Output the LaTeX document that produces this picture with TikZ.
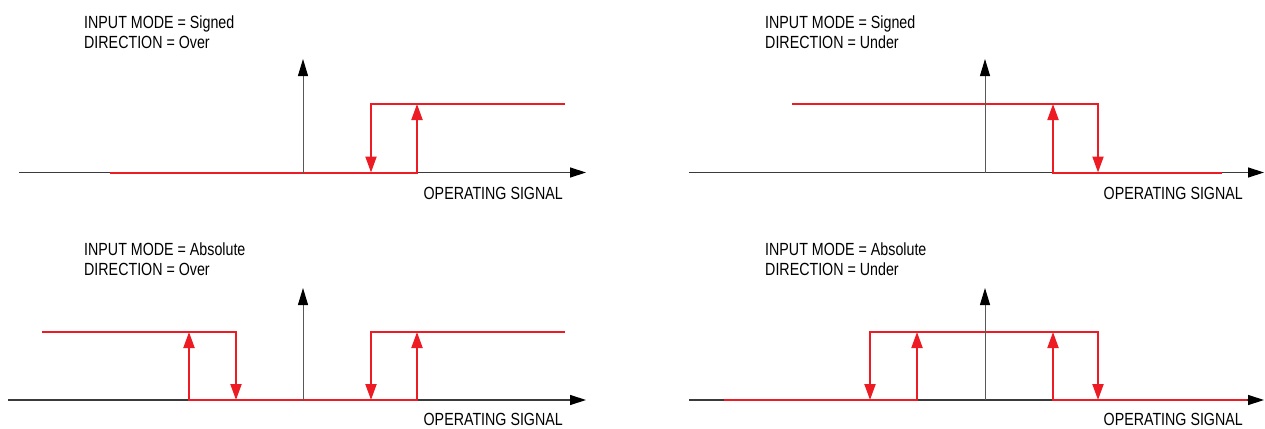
\documentclass[tikz,border=0pt]{standalone}
\usepackage{fontspec}
\setmainfont{Liberation Sans}[FakeStretch=0.81]
\usetikzlibrary{arrows.meta, positioning}
\definecolor{relayred}{HTML}{ED1C24}
\definecolor{axisgray}{HTML}{3A3A3A}

\begin{document}
\begin{tikzpicture}[
  x=1pt, y=-1pt,
  axis/.style={draw=axisgray, line width=1.3pt,
               -{Triangle[length=16pt, width=10pt, black]}},
  yaxis/.style={draw=axisgray!85, line width=1pt,
               -{Triangle[length=17pt, width=10pt, black]}},
  relay/.style={draw=relayred, line width=2pt, line join=miter},
  up/.style={relay, -{Triangle[length=16pt, width=11pt]}},
  both/.style={relay, {Triangle[length=16pt, width=11pt]}-{Triangle[length=16pt, width=11pt]}},
  lbl/.style={font=\fontsize{17.6}{20}\selectfont, inner sep=0pt, anchor=base west},
  sig/.style={lbl, anchor=base east}
]
  \useasboundingbox (0,0) rectangle (1265,428);

  % axes
  \coordinate (o1) at (303,172.5);  \coordinate (o2) at (985,172.5);
  \coordinate (o3) at (303,400);    \coordinate (o4) at (985,400);
  \coordinate (l1) at (19,172.5);   \coordinate (r1) at (586,172.5);
  \coordinate (l2) at (689,172.5);  \coordinate (r2) at (1264,172.5);
  \coordinate (l3) at (8,400);      \coordinate (r3) at (586,400);
  \coordinate (l4) at (689,400);    \coordinate (r4) at (1264,400);
  \draw[axis] (l1) -- (r1);
  \draw[axis] (l2) -- (r2);
  \draw[axis] (l3) -- (r3);
  \draw[axis] (l4) -- (r4);

  % Signed / Over
  \draw[up] (110,172.5) -- (417,172.5) -- (417,104);
  \draw[up] (565,104) -- (371,104) -- (371,172.5);

  % Signed / Under
  \draw[up] (792,104) -- (1098,104) -- (1098,172.5);
  \draw[up] (1222,172.5) -- (1053,172.5) -- (1053,104);

  % Absolute / Over
  \draw[up] (42,332) -- (236,332) -- (236,400);
  \draw[both] (189,332) -- (189,400) -- (417,400) -- (417,332);
  \draw[up] (565,332) -- (371,332) -- (371,400);

  % Absolute / Under
  \draw[up] (724,400) -- (917,400) -- (917,332);
  \draw[both] (870,400) -- (870,332) -- (1098,332) -- (1098,400);
  \draw[up] (1247,400) -- (1053,400) -- (1053,332);

  \coordinate (t1) at (303,59);   \coordinate (t2) at (985,59);
  \coordinate (t3) at (303,288);  \coordinate (t4) at (985,288);
  \draw[yaxis] ([yshift=-1pt]o1) -- (t1);
  \draw[yaxis] (o2) -- (t2);
  \draw[yaxis] ([yshift=-1pt]o3) -- (t3);
  \draw[yaxis] (o4) -- (t4);

  % labels
  \node[lbl] (mode1) at (84,28.3)   {INPUT MODE = Signed};
  \node[lbl] (dir1)  at (84,48.3)   {DIRECTION = Over};
  \node[sig] (sig1)  at (563,199)   {OPERATING SIGNAL};
  \node[lbl] (mode2) at (765,28.3)  {INPUT MODE = Signed};
  \node[lbl] (dir2)  at (765,48.3)  {DIRECTION = Under};
  \node[sig] (sig2)  at (1243,199)  {OPERATING SIGNAL};
  \node[lbl] (mode3) at (84,255.3)  {INPUT MODE = Absolute};
  \node[lbl] (dir3)  at (84,275.3)  {DIRECTION = Over};
  \node[sig] (sig3)  at (563,425)   {OPERATING SIGNAL};
  \node[lbl] (mode4) at (765,255.3) {INPUT MODE = Absolute};
  \node[lbl] (dir4)  at (765,275.3) {DIRECTION = Under};
  \node[sig] (sig4)  at (1243,425)  {OPERATING SIGNAL};
\end{tikzpicture}
\end{document}
